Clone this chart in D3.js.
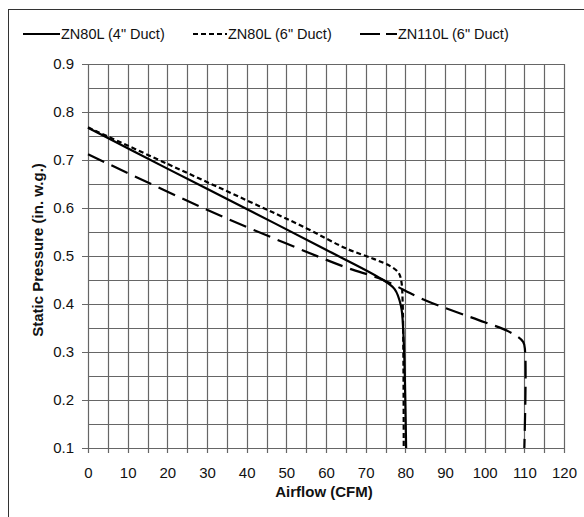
<!DOCTYPE html>
<html>
<head>
<meta charset="utf-8">
<script src="https://cdn.jsdelivr.net/npm/d3@7"></script>
<style>
  body { margin: 0; background: #fff; }
  svg { display: block; font-family: Arial, "Liberation Sans", sans-serif; }
</style>
</head>
<body>
<script>
var width = 584,
    height = 517;

// data
var seriesNames = ['ZN80L (4" Duct)', 'ZN80L (6" Duct)', 'ZN110L (6" Duct)'];

var zn80l4 = [
  [0, 0.767], [20, 0.682], [40, 0.598], [60, 0.513], [74, 0.452],
  [77.3, 0.431], [78.9, 0.396], [79.5, 0.340], [80.2, 0.1]
];

var zn80l6 = [
  [0, 0.768], [20, 0.692], [40, 0.616], [55, 0.558], [65, 0.516],
  [72, 0.494], [76.2, 0.479], [78.3, 0.465], [79.0, 0.447], [79.3, 0.410],
  [79.5, 0.300], [79.6, 0.1]
];

var zn110l6 = [
  [0, 0.712], [29, 0.600], [49.7, 0.527], [64.8, 0.477], [74.4, 0.450],
  [85, 0.408], [100, 0.362], [106, 0.343], [109.7, 0.321], [110.2, 0.300],
  [110.0, 0.1]
];

var xTickValues = [0, 10, 20, 30, 40, 50, 60, 70, 80, 90, 100, 110, 120];
var yTickValues = [0.1, 0.2, 0.3, 0.4, 0.5, 0.6, 0.7, 0.8, 0.9];

var series = [
  { name: seriesNames[0], values: zn80l4, dash: null },
  { name: seriesNames[1], values: zn80l6, dash: '5,3' },
  { name: seriesNames[2], values: zn110l6, dash: '18,8' }
];

var svg = d3.select('body')
  .append('svg')
  .attr('width', width)
  .attr('height', height);

// outer frame
svg.append('rect')
  .attr('x', 8.5)
  .attr('y', 9.5)
  .attr('width', 620)
  .attr('height', 560)
  .attr('fill', 'none')
  .attr('stroke', '#333')
  .attr('stroke-width', 1);

var x = d3.scaleLinear().domain([0, 120]).range([88, 564]);
var y = d3.scaleLinear().domain([0.1, 0.9]).range([448, 64]);

// grid
var grid = svg.append('g').attr('stroke', '#666').attr('stroke-width', 1.2);

grid.selectAll('.vg')
  .data(d3.range(0, 121, 5))
  .enter().append('line')
  .attr('x1', function(d) { return Math.round(x(d)) + 0.5; })
  .attr('x2', function(d) { return Math.round(x(d)) + 0.5; })
  .attr('y1', y(0.9))
  .attr('y2', y(0.1) + 5);

grid.selectAll('.hg')
  .data(d3.range(0.1, 0.901, 0.05))
  .enter().append('line')
  .attr('y1', function(d) { return Math.round(y(d)) + 0.5; })
  .attr('y2', function(d) { return Math.round(y(d)) + 0.5; })
  .attr('x1', function(d, i) { return i % 2 === 0 ? x(0) - 6 : x(0); })
  .attr('x2', x(120));

// axes (labels only, grid draws the ticks)
var xAxis = svg.append('g')
  .attr('transform', 'translate(0,' + y(0.1) + ')')
  .call(d3.axisBottom(x).tickValues(xTickValues).tickSize(0).tickPadding(19).tickFormat(d3.format('d')));

var yAxis = svg.append('g')
  .attr('transform', 'translate(' + x(0) + ',0)')
  .call(d3.axisLeft(y).tickValues(yTickValues).tickSize(0).tickPadding(14).tickFormat(d3.format('.1f')));

[xAxis, yAxis].forEach(function(a) {
  a.select('.domain').remove();
  a.selectAll('text')
    .attr('fill', '#111')
    .style('font-size', '15px')
    .style('font-family', 'Arial, "Liberation Sans", sans-serif');
});

svg.append('text')
  .attr('x', 324)
  .attr('y', 497)
  .attr('text-anchor', 'middle')
  .style('font-size', '15px')
  .style('font-weight', 'bold')
  .attr('fill', '#111')
  .text('Airflow (CFM)');

svg.append('text')
  .attr('transform', 'translate(43,250) rotate(-90)')
  .attr('text-anchor', 'middle')
  .style('font-size', '15px')
  .style('font-weight', 'bold')
  .attr('fill', '#111')
  .text('Static Pressure (in. w.g.)');

// curves
var line = d3.line()
  .x(function(d) { return x(d[0]); })
  .y(function(d) { return y(d[1]); })
  .curve(d3.curveCatmullRom.alpha(0.5));

svg.append('g')
  .selectAll('path')
  .data(series)
  .enter().append('path')
  .attr('d', function(d) { return line(d.values); })
  .attr('fill', 'none')
  .attr('stroke', '#000')
  .attr('stroke-width', 2.2)
  .attr('stroke-dasharray', function(d) { return d.dash; });

// legend
var legendX = [23, 193, 360];
var legend = svg.append('g')
  .selectAll('g')
  .data(series)
  .enter().append('g')
  .attr('transform', function(d, i) { return 'translate(' + legendX[i] + ',34)'; });

legend.append('line')
  .attr('x1', 0)
  .attr('x2', function(d, i) { return i === 1 ? 34 : 37; })
  .attr('y1', 0)
  .attr('y2', 0)
  .attr('stroke', '#000')
  .attr('stroke-width', 2.2)
  .attr('stroke-dasharray', function(d, i) { return i === 2 ? '20,6' : d.dash; });

legend.append('text')
  .attr('x', function(d, i) { return i === 1 ? 35 : 38; })
  .attr('y', 5)
  .style('font-size', '14.5px')
  .attr('fill', '#111')
  .text(function(d) { return d.name; });
</script>
</body>
</html>
